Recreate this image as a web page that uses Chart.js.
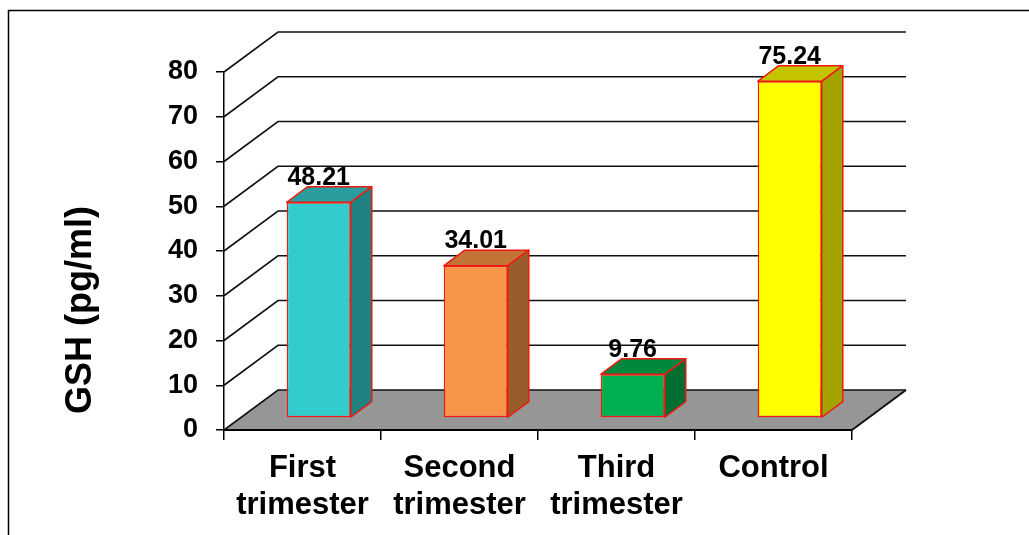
<!DOCTYPE html>
<html>
<head>
<meta charset="utf-8">
<script src="https://cdn.jsdelivr.net/npm/chart.js@4/dist/chart.umd.min.js"></script>
<style>
  html, body { margin: 0; padding: 0; background: #fff; }
  canvas { display: block; }
</style>
</head>
<body>
<canvas id="chart" width="1029" height="535"></canvas>
<script>
// GSH levels by group
const categories = [['First', 'trimester'], ['Second', 'trimester'], ['Third', 'trimester'], 'Control'];
const gshValues = [48.21, 34.01, 9.76, 75.24];
const yTicks = [0, 10, 20, 30, 40, 50, 60, 70, 80];
const yTitle = 'GSH (pg/ml)';

// face colours: front, top, side
const frontColors = ['#33CCCC', '#F79646', '#00B050', '#FFFF00'];
const topColors   = ['#2A9E9E', '#C27436', '#00893D', '#C4C400'];
const sideColors  = ['#218080', '#9A5C2A', '#006F31', '#A2A200'];
const edgeColor = '#F01A10';

const FONT = '"Liberation Sans", Arial, Helvetica, sans-serif';

// depth of the floor / back wall, and where the bars sit inside it
const DX = 54, DY = 40;
const BAR_Z = 0.3;   // front face of the bars, as a fraction of the depth
const BAR_D = 0.39;  // bar thickness, as a fraction of the depth

const depthPlugin = {
  id: 'depth3d',
  beforeDraw(chart) {
    const { ctx, chartArea: a, scales: { y } } = chart;
    ctx.save();
    // floor
    ctx.fillStyle = '#969696';
    ctx.beginPath();
    ctx.moveTo(a.left, a.bottom);
    ctx.lineTo(a.right, a.bottom);
    ctx.lineTo(a.right + DX, a.bottom - DY);
    ctx.lineTo(a.left + DX, a.bottom - DY);
    ctx.closePath();
    ctx.fill();
    // side wall diagonals and back wall grid lines
    ctx.strokeStyle = '#111';
    ctx.lineWidth = 1.6;
    y.ticks.forEach(t => {
      const py = y.getPixelForValue(t.value);
      ctx.beginPath();
      ctx.moveTo(a.left, py);
      ctx.lineTo(a.left + DX, py - DY);
      ctx.lineTo(a.right + DX, py - DY);
      ctx.stroke();
    });
    // right edge of the floor
    ctx.lineWidth = 2;
    ctx.beginPath();
    ctx.moveTo(a.right, a.bottom);
    ctx.lineTo(a.right + DX, a.bottom - DY);
    ctx.stroke();
    ctx.restore();
  },
  beforeDatasetsDraw(chart) {
    // move the bars back onto their plane inside the box
    chart.ctx.save();
    chart.ctx.translate(DX * BAR_Z, -DY * BAR_Z);
  },
  afterDatasetsDraw(chart) {
    const ctx = chart.ctx;
    const meta = chart.getDatasetMeta(0);
    const ox = DX * BAR_D, oy = DY * BAR_D;
    ctx.lineWidth = 1.5;
    ctx.strokeStyle = edgeColor;
    ctx.lineJoin = 'round';
    const labelPos = [];
    meta.data.forEach((bar, i) => {
      const { x, y, base, width } = bar.getProps(['x', 'y', 'base', 'width'], true);
      const l = x - width / 2, r = x + width / 2;
      // top face
      ctx.fillStyle = topColors[i];
      ctx.beginPath();
      ctx.moveTo(l, y);
      ctx.lineTo(l + ox, y - oy);
      ctx.lineTo(r + ox, y - oy);
      ctx.lineTo(r, y);
      ctx.closePath();
      ctx.fill();
      ctx.stroke();
      // side face
      ctx.fillStyle = sideColors[i];
      ctx.beginPath();
      ctx.moveTo(r, y);
      ctx.lineTo(r + ox, y - oy);
      ctx.lineTo(r + ox, base - oy);
      ctx.lineTo(r, base);
      ctx.closePath();
      ctx.fill();
      ctx.stroke();
      labelPos.push([x, y - oy - 2]);
    });
    // value labels above each bar
    ctx.fillStyle = '#000';
    ctx.font = 'bold 25px ' + FONT;
    ctx.textAlign = 'center';
    ctx.textBaseline = 'alphabetic';
    labelPos.forEach(([x, y], i) => ctx.fillText(gshValues[i].toFixed(2), x, y));
    ctx.restore();
  },
  afterDraw(chart) {
    const ctx = chart.ctx;
    ctx.save();
    // outer frame
    ctx.strokeStyle = '#000';
    ctx.lineWidth = 1.5;
    ctx.beginPath();
    ctx.moveTo(8.5, chart.height);
    ctx.lineTo(8.5, 10.5);
    ctx.lineTo(chart.width, 10.5);
    ctx.stroke();
    // value axis title
    ctx.translate(81, 310);
    ctx.rotate(-Math.PI / 2);
    ctx.fillStyle = '#000';
    ctx.font = 'bold 36px ' + FONT;
    ctx.textAlign = 'center';
    ctx.textBaseline = 'middle';
    ctx.fillText(yTitle, 0, 0);
    ctx.restore();
  }
};

new Chart(document.getElementById('chart'), {
  type: 'bar',
  data: {
    labels: categories,
    datasets: [{
      data: gshValues,
      backgroundColor: frontColors,
      borderColor: edgeColor,
      borderWidth: 1.5,
      borderSkipped: false,
      barPercentage: 0.408,
      categoryPercentage: 1,
      clip: false
    }]
  },
  options: {
    responsive: false,
    animation: false,
    devicePixelRatio: 1,
    layout: { padding: { left: 0, right: 177, top: 72, bottom: 0 } },
    plugins: {
      legend: { display: false },
      tooltip: { enabled: false }
    },
    scales: {
      x: {
        afterFit(scale) { scale.height = 105; },
        grid: {
          offset: true,
          drawOnChartArea: false,
          drawTicks: true,
          tickLength: 10,
          color: '#000',
          lineWidth: 1.5
        },
        border: { display: true, color: '#000', width: 2 },
        ticks: {
          color: '#000',
          padding: 10,
          maxRotation: 0,
          autoSkip: false,
          font: { family: FONT, size: 31, weight: 'bold', lineHeight: 1.2 }
        }
      },
      y: {
        min: 0,
        max: 80,
        afterFit(scale) { scale.width = 224; },
        afterBuildTicks(scale) { scale.ticks = yTicks.map(v => ({ value: v })); },
        grid: {
          drawOnChartArea: false,
          drawTicks: true,
          tickLength: 8,
          color: '#000',
          lineWidth: 1.5
        },
        border: { display: true, color: '#000', width: 1.5 },
        ticks: {
          color: '#000',
          padding: 18,
          font: { family: FONT, size: 27, weight: 'bold' }
        }
      }
    }
  },
  plugins: [depthPlugin]
});
</script>
</body>
</html>
